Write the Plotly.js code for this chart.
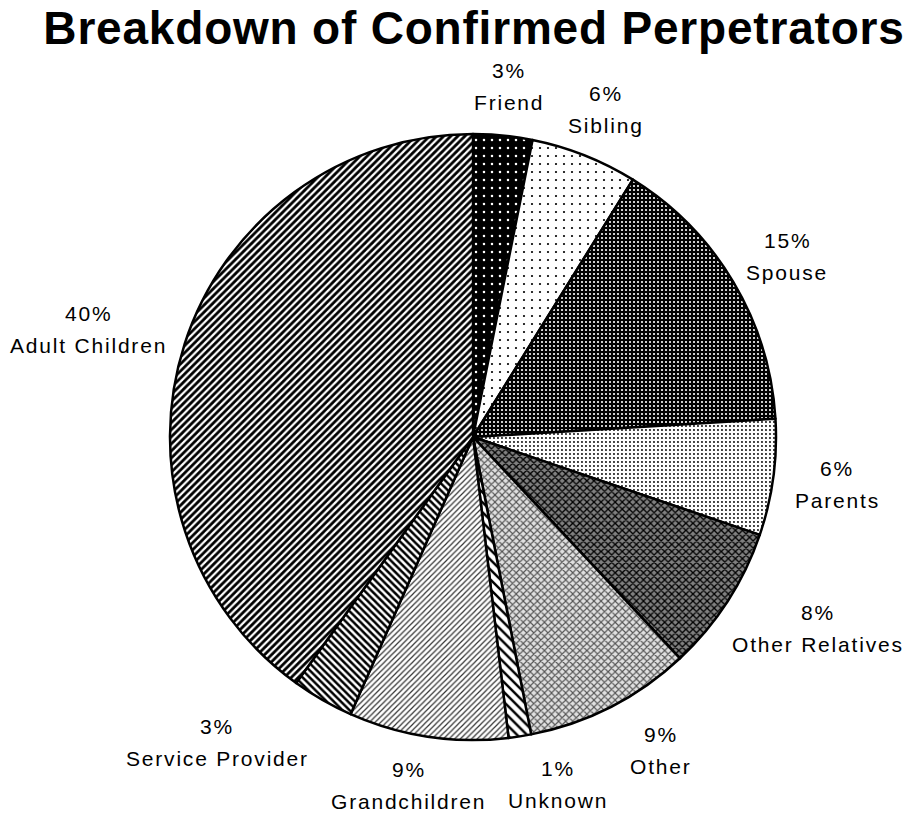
<!DOCTYPE html>
<html>
<head>
<meta charset="utf-8">
<script src="https://cdn.plot.ly/plotly-3.0.1.min.js"></script>
<style>
  html, body { margin: 0; padding: 0; background: #fff; }
  #chart { width: 921px; height: 815px; }
  .annotation-text { letter-spacing: 1.8px; }
  .gtitle { letter-spacing: 0.8px; }
</style>
</head>
<body>
<div id="chart"></div>
<script>
// ---- data ----
const categories = ['Friend', 'Sibling', 'Spouse', 'Parents', 'Other Relatives', 'Other', 'Unknown', 'Grandchildren', 'Service Provider', 'Adult Children'];
const shares = [3.15, 5.7, 15.2, 6.2, 7.8, 8.9, 1.2, 8.5, 3.3, 40.1];
const shareLabels = ['3%', '6%', '15%', '6%', '8%', '9%', '1%', '9%', '3%', '40%'];

// ---- styling ----
const patShape = ['.', '.', '.', '.', 'x', 'x', '\\', '/', '\\', '/'];
const patFg = ['#ffffff', '#000000', '#ffffff', '#000000', '#000000', '#555555', '#000000', '#333333', '#000000', '#000000'];
const patBg = ['#000000', '#ffffff', '#000000', '#ffffff', '#808080', '#e0e0e0', '#ffffff', '#ffffff', '#ffffff', '#ffffff'];
const patSize = [8, 8, 4, 4, 5, 5, 7, 4, 5, 5];
const patSolid = [0.08, 0.06, 0.22, 0.18, 0.45, 0.4, 0.35, 0.3, 0.5, 0.55];

const W = 921, H = 815;
const cx = 473, cy = 437, R = 303;

const trace = {
  type: 'pie',
  labels: categories,
  values: shares,
  sort: false,
  direction: 'clockwise',
  rotation: 0,
  textinfo: 'none',
  hoverinfo: 'label+percent',
  domain: { x: [(cx - R) / W, (cx + R) / W], y: [(H - cy - R) / H, (H - cy + R) / H] },
  marker: {
    colors: patBg,
    line: { color: '#000000', width: 2.5 },
    pattern: { shape: patShape, fgcolor: patFg, bgcolor: patBg, size: patSize, solidity: patSolid, fillmode: 'replace' }
  }
};

// label placement computed from slice angles
const fontFamily = "'Liberation Sans', Arial, sans-serif";
const fsz = 21, spacing = 1.8;
const canvas = document.createElement('canvas');
const ctx = canvas.getContext('2d');
ctx.font = fsz + "px 'Liberation Sans'";
function tw(s) { return ctx.measureText(s).width + spacing * s.length; }

const total = shares.reduce((a, b) => a + b, 0);
const boxes = [];
let cum = 0;
const gap = 22, lineGap = 16, blockH = 54, pad = 22;
shares.forEach((v, i) => {
  const mid = (cum + v / 2) / total * 2 * Math.PI;
  cum += v;
  const sx = Math.sin(mid), sy = -Math.cos(mid);
  const px = cx + (R + gap) * sx, py = cy + (R + gap) * sy;
  const w = Math.max(tw(shareLabels[i]), tw(categories[i]));
  boxes.push({ x: px + sx * w / 2, y: py + sy * blockH / 2, w: w, i: i });
});
// simple collision relaxation (horizontal push)
for (let it = 0; it < 50; it++) {
  for (let a = 0; a < boxes.length; a++) {
    for (let b = a + 1; b < boxes.length; b++) {
      const A = boxes[a], B = boxes[b];
      if (Math.abs(A.y - B.y) >= blockH) continue;
      const need = (A.w + B.w) / 2 + pad - Math.abs(A.x - B.x);
      if (need > 0) {
        const dir = A.x < B.x ? -1 : 1;
        A.x += dir * need / 2; B.x -= dir * need / 2;
      }
    }
  }
}
const annotations = [];
boxes.forEach(bx => {
  [[shareLabels[bx.i], bx.y - lineGap], [categories[bx.i], bx.y + lineGap]].forEach(([t, yy]) => {
    annotations.push({
      text: t, xref: 'paper', yref: 'paper', x: bx.x / W, y: 1 - yy / H,
      xanchor: 'center', yanchor: 'middle', showarrow: false,
      font: { family: fontFamily, size: fsz, color: '#000000' }
    });
  });
});

const layout = {
  width: W, height: H,
  margin: { l: 0, r: 0, t: 0, b: 0 },
  paper_bgcolor: '#ffffff',
  plot_bgcolor: '#ffffff',
  showlegend: false,
  title: {
    text: '<b>Breakdown of Confirmed Perpetrators</b>',
    font: { family: fontFamily, size: 46, color: '#000000' },
    x: 474 / W, xanchor: 'center', xref: 'paper',
    y: 1 - 28 / H, yanchor: 'middle', yref: 'container'
  },
  annotations: annotations
};

Plotly.newPlot('chart', [trace], layout, { displayModeBar: false, staticPlot: true });
</script>
</body>
</html>
